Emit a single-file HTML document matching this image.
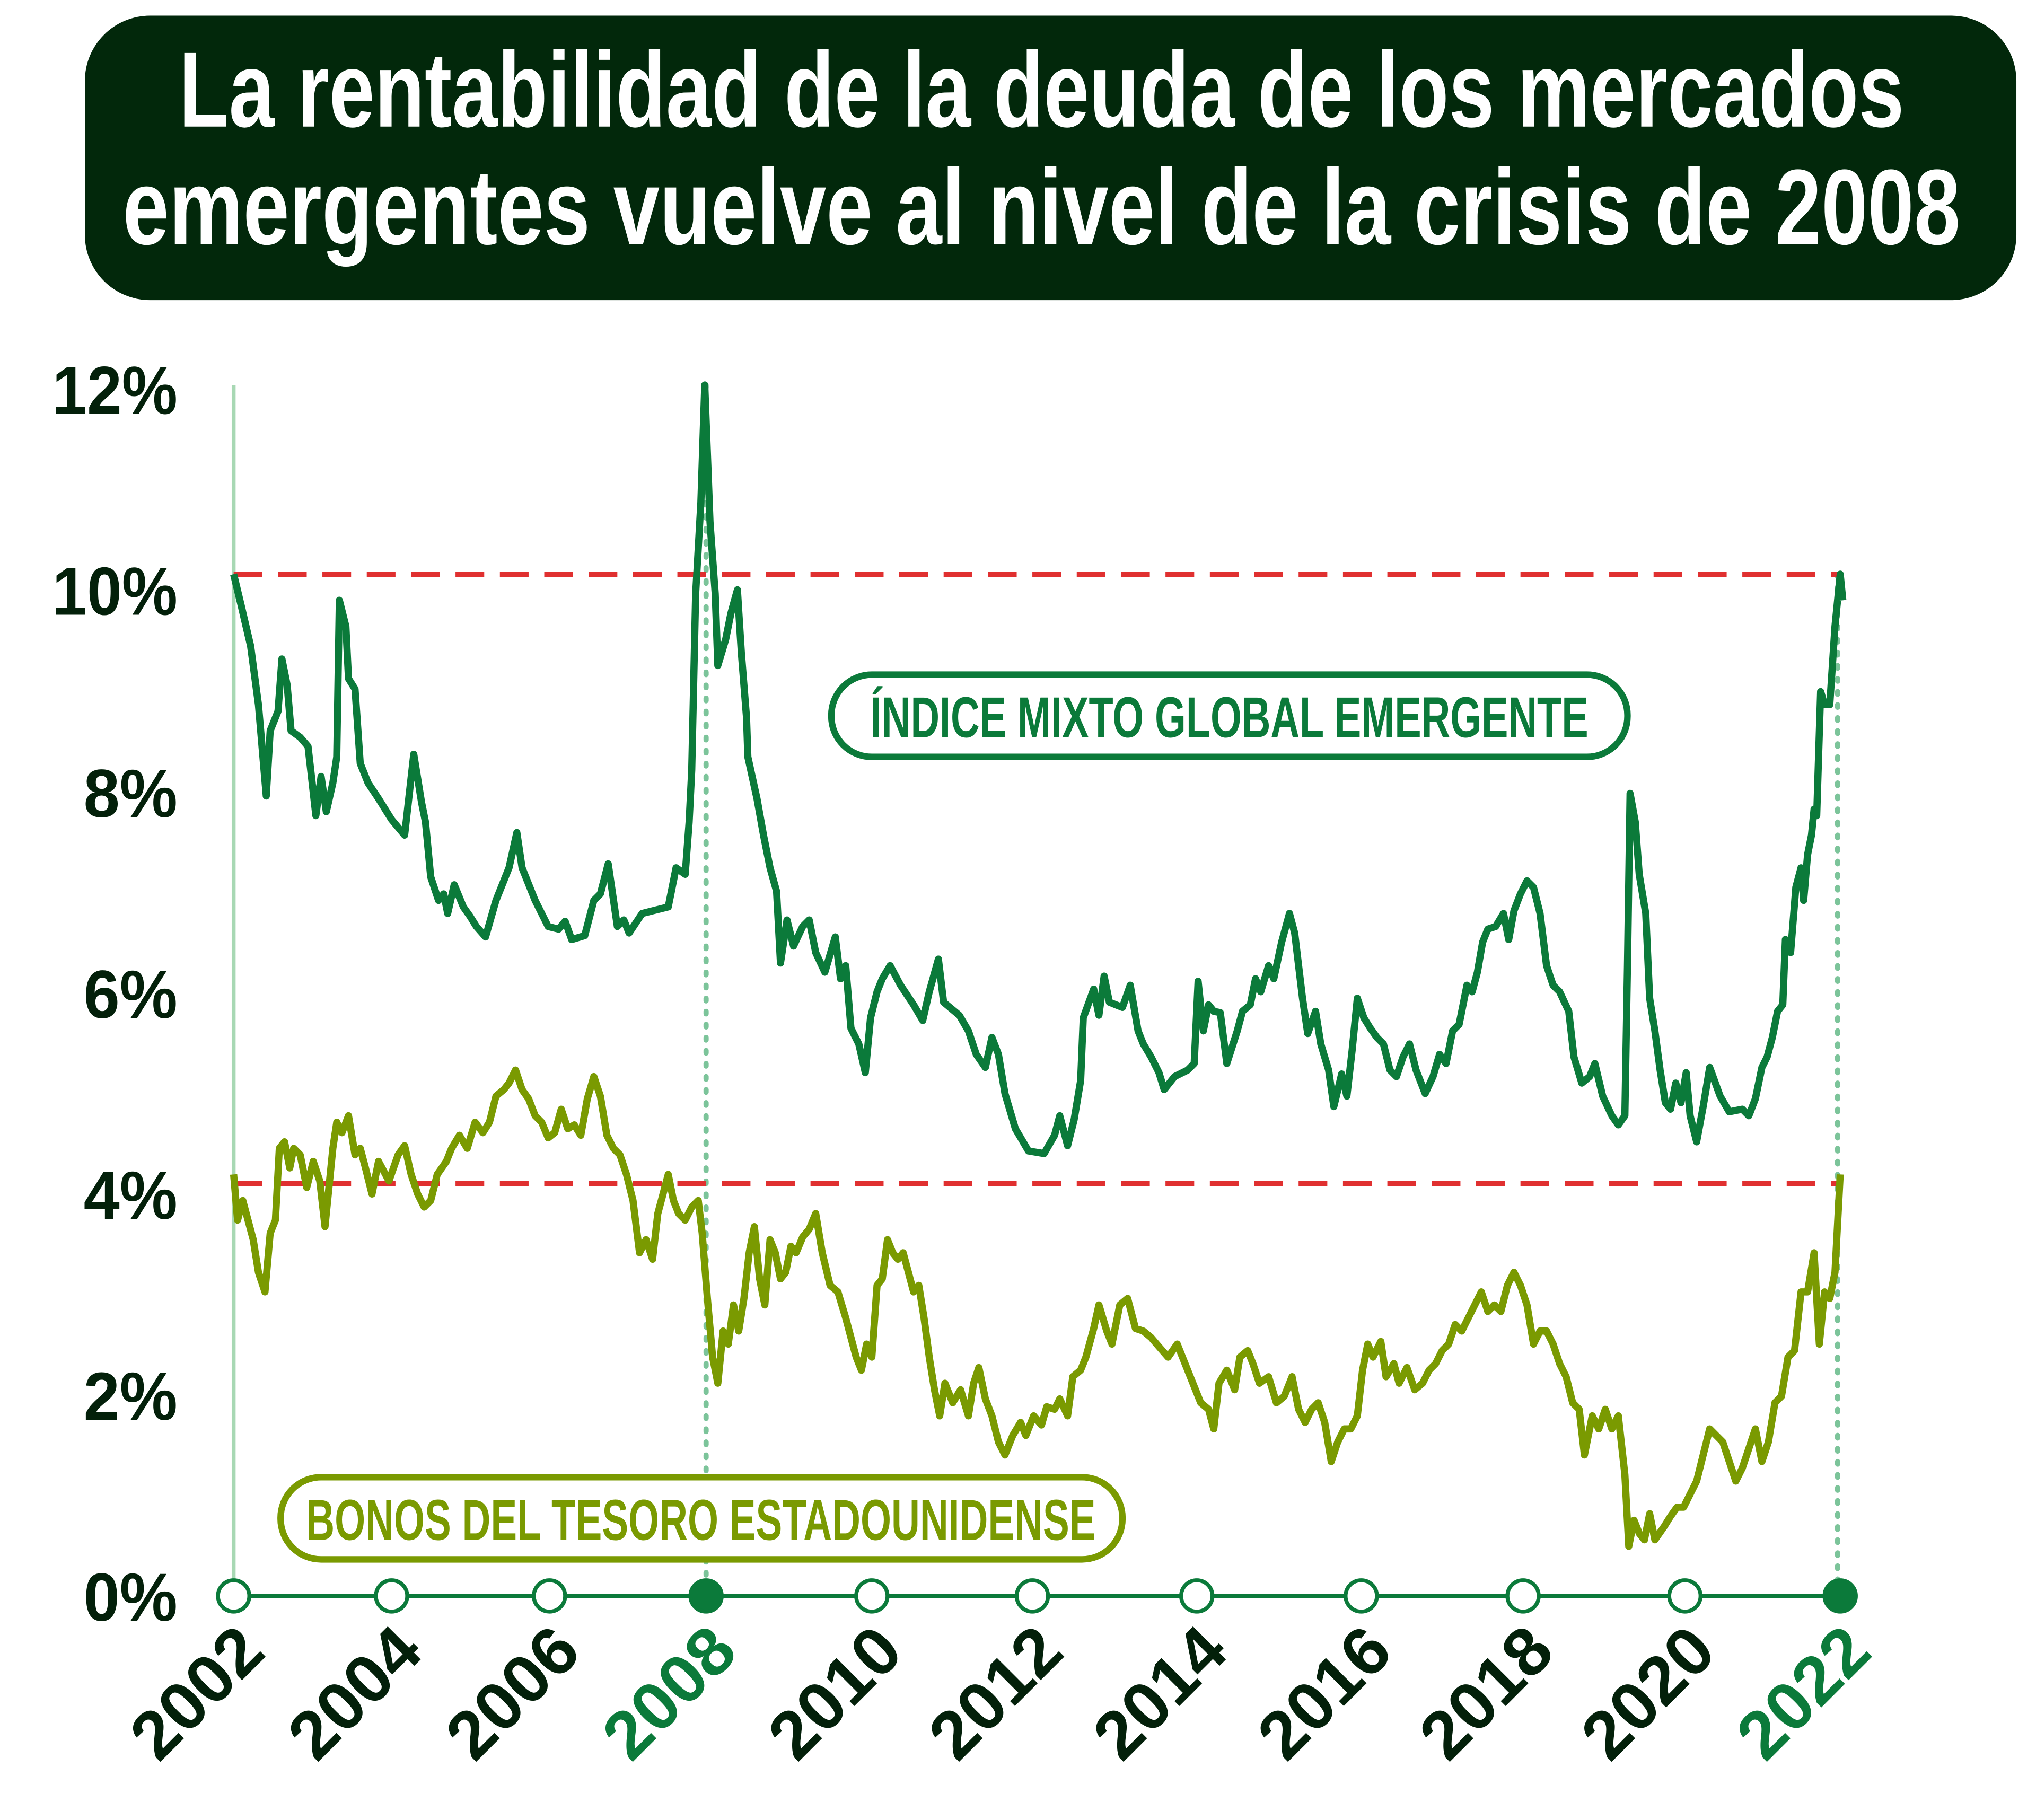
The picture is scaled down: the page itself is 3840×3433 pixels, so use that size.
<!DOCTYPE html>
<html><head><meta charset="utf-8"><style>html,body{margin:0;padding:0;background:#fff}svg{display:block}</style></head>
<body>
<svg width="3840" height="3433" viewBox="0 0 1560 1394.7" xmlns="http://www.w3.org/2000/svg" font-family="'Liberation Sans Narrow','Liberation Sans',sans-serif" font-weight="bold">
<rect x="0" y="0" width="1560" height="1394.7" fill="#fff"/>
<rect x="65" y="12" width="1480" height="218" rx="50" fill="#02280b"/>
<text x="798" y="97" fill="#fff" font-size="82" text-anchor="middle" textLength="1322" lengthAdjust="spacingAndGlyphs">La rentabilidad de la deuda de los mercados</text>
<text x="798" y="187" fill="#fff" font-size="82" text-anchor="middle" textLength="1408" lengthAdjust="spacingAndGlyphs">emergentes vuelve al nivel de la crisis de 2008</text>

<g fill="#03200a" font-size="52" text-anchor="end">
<text x="136" y="317" textLength="96" lengthAdjust="spacingAndGlyphs">12%</text>
<text x="136" y="471" textLength="96" lengthAdjust="spacingAndGlyphs">10%</text>
<text x="136" y="626" textLength="72" lengthAdjust="spacingAndGlyphs">8%</text>
<text x="136" y="780" textLength="72" lengthAdjust="spacingAndGlyphs">6%</text>
<text x="136" y="934" textLength="72" lengthAdjust="spacingAndGlyphs">4%</text>
<text x="136" y="1088" textLength="72" lengthAdjust="spacingAndGlyphs">2%</text>
<text x="136" y="1242" textLength="72" lengthAdjust="spacingAndGlyphs">0%</text>
</g>

<line x1="179" y1="295" x2="179" y2="1223" stroke="#a8d8b4" stroke-width="3"/>
<line x1="541" y1="295" x2="541" y2="1223" stroke="#7cc49a" stroke-width="4" stroke-dasharray="2,8" stroke-linecap="round"/>
<line x1="1408" y1="440" x2="1408" y2="1223" stroke="#7cc49a" stroke-width="4" stroke-dasharray="2,8" stroke-linecap="round"/>
<line x1="179" y1="440" x2="1410" y2="440" stroke="#e03030" stroke-width="4" stroke-dasharray="22,12"/>
<line x1="179" y1="907" x2="1410" y2="907" stroke="#e03030" stroke-width="4" stroke-dasharray="22,12"/>

<polyline fill="none" stroke="#0b7a3a" stroke-width="5.5" stroke-linejoin="round" points="179,440 185,465 192,495 198,540 204,610 207,560 213,545 216,505 220,525 223,560 230,565 236,572 242,625 246,595 250,622 255,600 258,580 260,460 265,480 267,520 272,528 276,585 282,600 290,612 300,628 310,640 317,578 323,615 326,630 330,672 336,690 340,685 343,700 348,678 355,695 360,702 365,710 372,718 380,690 390,665 396,638 400,665 410,690 420,710 428,712 433,706 438,720 448,717 455,690 460,685 466,662 473,710 478,705 482,715 492,700 500,698 512,695 518,665 525,670 528,630 530,590 533,455 537,385 540,295 544,400 548,455 550,510 556,490 560,470 565,452 568,500 572,550 573,580 580,612 585,640 590,665 595,683 598,738 603,705 608,725 615,710 620,705 625,730 632,745 640,718 644,750 648,740 652,788 658,800 663,822 667,780 672,760 676,750 682,740 690,755 700,770 707,782 712,760 719,735 723,768 735,778 742,790 748,808 755,818 760,795 765,808 770,838 778,865 788,882 800,884 808,870 812,855 818,878 823,858 828,828 830,780 838,758 842,778 846,748 850,768 855,770 860,772 866,755 872,790 876,800 882,810 888,822 892,835 900,825 910,820 915,815 918,752 922,790 926,770 930,775 935,776 940,815 948,790 952,775 958,770 962,750 966,760 972,740 976,750 982,722 988,700 992,715 998,765 1002,792 1008,775 1012,800 1018,820 1022,848 1028,823 1032,840 1036,805 1040,765 1045,780 1050,788 1055,795 1060,800 1065,820 1070,825 1075,810 1080,800 1085,820 1092,838 1098,825 1103,808 1108,815 1113,790 1118,785 1124,755 1128,760 1132,745 1136,722 1140,712 1146,710 1152,700 1156,720 1160,698 1165,685 1170,675 1175,680 1180,700 1185,740 1190,755 1195,760 1202,775 1206,810 1212,830 1218,825 1222,815 1228,840 1235,855 1240,862 1245,855 1247,740 1249,608 1253,630 1256,670 1261,700 1264,765 1268,790 1272,820 1276,845 1280,850 1284,830 1288,845 1292,822 1295,855 1300,875 1305,848 1310,818 1318,840 1325,852 1335,850 1340,855 1345,842 1350,818 1354,810 1358,795 1362,775 1366,770 1368,720 1372,730 1376,680 1380,665 1382,690 1385,655 1388,640 1390,620 1392,625 1395,530 1398,540 1402,540 1406,480 1410,440 1412,460"/>

<polyline fill="none" stroke="#7a9a01" stroke-width="5.5" stroke-linejoin="round" points="179,900 182,935 186,920 190,935 194,950 198,975 203,990 207,945 211,935 214,880 218,875 222,895 225,880 230,885 235,910 240,890 245,905 249,940 255,880 258,860 262,868 267,855 272,885 276,880 280,895 285,915 290,890 298,905 305,885 310,878 315,900 320,915 325,925 330,920 335,900 342,890 346,880 352,870 358,880 364,860 370,868 375,860 380,840 386,835 390,830 395,820 400,835 405,842 410,855 415,860 420,872 425,868 430,850 435,865 440,862 445,870 450,842 455,825 460,840 465,870 470,880 475,885 480,900 485,920 490,960 495,950 500,965 504,930 508,915 512,900 516,920 520,930 525,935 530,925 535,920 538,945 542,995 546,1040 550,1060 554,1020 558,1030 562,1000 566,1020 570,995 574,960 578,940 582,980 586,1000 590,950 594,960 598,980 602,975 606,955 610,960 615,948 620,942 625,930 630,960 636,985 642,990 648,1010 652,1025 656,1040 660,1050 664,1030 668,1040 672,985 676,980 680,950 684,960 688,965 692,960 696,975 700,990 704,985 708,1010 712,1040 716,1065 720,1085 724,1060 730,1075 736,1065 742,1085 746,1060 750,1048 755,1072 760,1085 765,1105 770,1115 776,1100 782,1090 786,1100 792,1085 798,1092 802,1078 808,1080 812,1072 818,1085 822,1055 828,1050 832,1040 838,1018 842,1000 848,1020 852,1030 858,1000 864,995 870,1018 876,1020 882,1025 888,1032 895,1040 902,1030 908,1045 914,1060 920,1075 926,1080 930,1095 934,1060 940,1050 946,1065 950,1040 956,1035 960,1045 965,1060 972,1055 978,1075 984,1070 990,1055 995,1080 1000,1090 1005,1080 1010,1075 1015,1090 1020,1120 1025,1105 1030,1095 1035,1095 1040,1085 1044,1050 1048,1030 1052,1040 1058,1028 1062,1055 1068,1045 1072,1060 1078,1048 1084,1065 1090,1060 1095,1050 1100,1045 1105,1035 1110,1030 1115,1015 1120,1020 1125,1010 1130,1000 1135,990 1140,1005 1145,1000 1150,1005 1155,985 1160,975 1165,985 1170,1000 1175,1030 1180,1020 1185,1020 1190,1030 1195,1045 1200,1055 1205,1075 1210,1080 1214,1115 1220,1085 1225,1095 1230,1080 1235,1095 1240,1085 1245,1130 1248,1185 1252,1165 1256,1175 1260,1180 1264,1160 1268,1180 1275,1170 1280,1162 1285,1155 1290,1155 1295,1145 1300,1135 1305,1115 1310,1095 1315,1100 1320,1105 1325,1120 1330,1135 1335,1125 1340,1110 1345,1095 1350,1120 1355,1105 1360,1075 1365,1070 1370,1040 1375,1035 1380,990 1385,990 1390,960 1394,1030 1398,990 1402,995 1406,975 1410,900"/>

<rect x="637" y="517" width="610" height="63" rx="31" fill="#fff" stroke="#0b7a3a" stroke-width="5"/>
<text x="942" y="565" fill="#0b7a3a" font-size="44" text-anchor="middle" textLength="550" lengthAdjust="spacingAndGlyphs">ÍNDICE MIXTO GLOBAL EMERGENTE</text>
<rect x="215" y="1132" width="645" height="63" rx="31" fill="#fff" stroke="#7a9a01" stroke-width="5"/>
<text x="537" y="1180" fill="#7a9a01" font-size="44" text-anchor="middle" textLength="605" lengthAdjust="spacingAndGlyphs">BONOS DEL TESORO ESTADOUNIDENSE</text>

<line x1="179" y1="1223" x2="1410" y2="1223" stroke="#0b7a3a" stroke-width="3"/>
<g stroke="#0b7a3a" stroke-width="3" fill="#fff">
<circle cx="179" cy="1223" r="12"/><circle cx="300" cy="1223" r="12"/><circle cx="421" cy="1223" r="12"/>
<circle cx="541" cy="1223" r="12" fill="#0b7a3a"/><circle cx="668" cy="1223" r="12"/><circle cx="791" cy="1223" r="12"/>
<circle cx="917" cy="1223" r="12"/><circle cx="1043" cy="1223" r="12"/><circle cx="1167" cy="1223" r="12"/>
<circle cx="1291" cy="1223" r="12"/><circle cx="1410" cy="1223" r="12" fill="#0b7a3a"/>
</g>
<g font-size="52" fill="#03200a" text-anchor="end">
<text transform="translate(205,1268) rotate(-45)" textLength="118" lengthAdjust="spacingAndGlyphs">2002</text>
<text transform="translate(326,1268) rotate(-45)" textLength="118" lengthAdjust="spacingAndGlyphs">2004</text>
<text transform="translate(447,1268) rotate(-45)" textLength="118" lengthAdjust="spacingAndGlyphs">2006</text>
<text transform="translate(567,1268) rotate(-45)" fill="#0b7a3a" textLength="118" lengthAdjust="spacingAndGlyphs">2008</text>
<text transform="translate(694,1268) rotate(-45)" textLength="118" lengthAdjust="spacingAndGlyphs">2010</text>
<text transform="translate(817,1268) rotate(-45)" textLength="118" lengthAdjust="spacingAndGlyphs">2012</text>
<text transform="translate(943,1268) rotate(-45)" textLength="118" lengthAdjust="spacingAndGlyphs">2014</text>
<text transform="translate(1069,1268) rotate(-45)" textLength="118" lengthAdjust="spacingAndGlyphs">2016</text>
<text transform="translate(1193,1268) rotate(-45)" textLength="118" lengthAdjust="spacingAndGlyphs">2018</text>
<text transform="translate(1317,1268) rotate(-45)" textLength="118" lengthAdjust="spacingAndGlyphs">2020</text>
<text transform="translate(1436,1268) rotate(-45)" fill="#0b7a3a" textLength="118" lengthAdjust="spacingAndGlyphs">2022</text>
</g>
</svg>
</body></html>
